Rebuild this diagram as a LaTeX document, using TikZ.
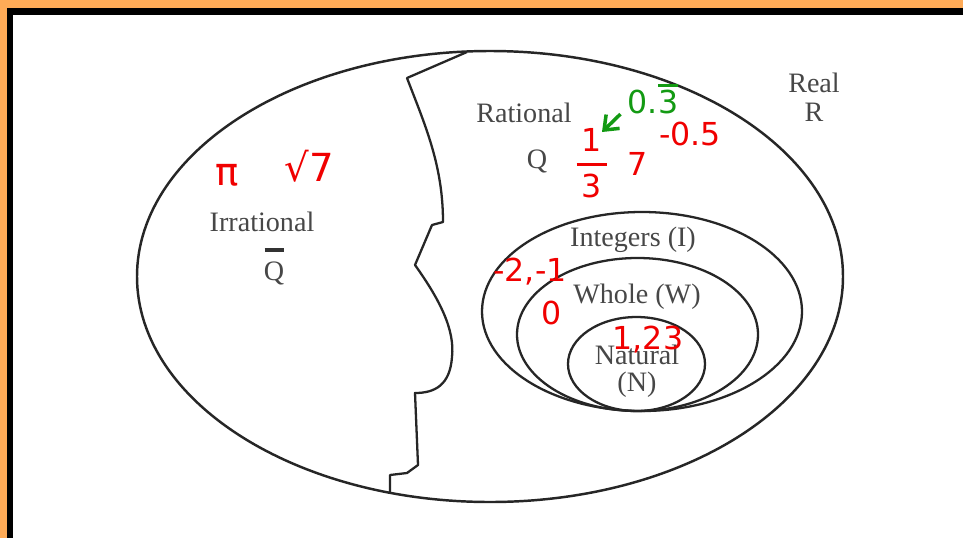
\documentclass[tikz,border=0pt]{standalone}
\usepackage{amsmath}
\usepackage{fontspec}
\setmainfont{Liberation Serif}
\newfontfamily\handfont{DejaVu Sans}
\usepackage{xcolor}
\usetikzlibrary{arrows.meta,positioning,calc}
\definecolor{frameorange}{HTML}{FFAB57}
\definecolor{inkred}{HTML}{F00000}
\definecolor{inkgreen}{HTML}{139A13}

\begin{document}
\begin{tikzpicture}[x=0.02cm,y=-0.02cm,
  lbl/.style={text=black!72,font=\fontsize{16}{18}\selectfont,inner sep=0pt},
  ink/.style={text=inkred,font=\handfont\fontsize{18}{20}\selectfont,inner sep=0pt},
  setline/.style={draw=black!85,line width=1.3pt}]
  \useasboundingbox (0,0) rectangle (963,538);
  \fill[frameorange] (0,0) rectangle (963,538);
  \fill[black] (7,8) rectangle (963,538);
  \fill[white] (13,15) rectangle (963,538);

  % R, split into Q and its complement
  \draw[setline,line width=1.4pt] (490,276.5) ellipse [x radius=353, y radius=225.5];
  \draw[setline,line join=round] (467,52) -- (407,78)
    .. controls (425,125) and (443,165) .. (443,222) -- (432,225) -- (415,265)
    .. controls (440,300) and (455,330) .. (452,357)
    .. controls (450,385) and (435,393) .. (415,393)
    -- (418,465) -- (407,473) -- (390,475) -- (390,492.5);

  % I > W > N
  \draw[setline] (642,311.5) ellipse [x radius=160, y radius=99.5];
  \draw[setline] (637.5,334.5) ellipse [x radius=120.5, y radius=76.5];
  \draw[setline] (636.5,364) ellipse [x radius=68.5, y radius=47];

  \node[lbl] (real) at (814,83) {Real};
  \node[lbl] (realR) at (814,112) {R};
  \node[lbl] (rat) at (524,113) {Rational};
  \node[lbl] (ratQ) at (537,161) {Q};
  \node[lbl] (irr) at (262,222) {Irrational};
  \node[lbl] (irrQ) at (274,273) {Q};
  \draw[black!80,line width=2.2pt] ($(irrQ.north west)+(1,-11)$) -- ($(irrQ.north east)+(-1,-11)$);
  \node[lbl] (int) at (633,240) {Integers (I)};
  \node[lbl] (whole) at (637,297) {Whole (W)};
  \node[lbl] (nat) at (637,355) {Natural};
  \node[lbl] (natN) at (637,385) {(N)};

  % handwritten examples
  \node[ink,font=\handfont\fontsize{22}{24}\selectfont] (pi) at (227,175) {π};
  \node[ink,font=\handfont\fontsize{22}{24}\selectfont] (root) at (309,166) {√7};
  \node[ink] (third) at (592,163) {\(\genfrac{}{}{1.6pt}{0}{\text{\,1\,}}{\text{\,3\,}}\)};
  \node[ink] (seven) at (638,164) {7};
  \node[ink] (half) at (690,134) {-0.5};
  \node[ink,text=inkgreen] (rec) at (653,99) {0.\rlap{\rule[15pt]{0.62em}{1.5pt}}3};
  \coordinate (tip) at (602,132);
  \draw[inkgreen,line width=2pt,-{Straight Barb[length=7pt,width=11pt]}] ([xshift=-4pt]rec.south west) -- (tip);
  \node[ink] (negs) at (530,272) {-2,-1};
  \node[ink] (zero) at (552,313) {0};
  \node[ink] (nats) at (648,340) {1,23};
\end{tikzpicture}
\end{document}
